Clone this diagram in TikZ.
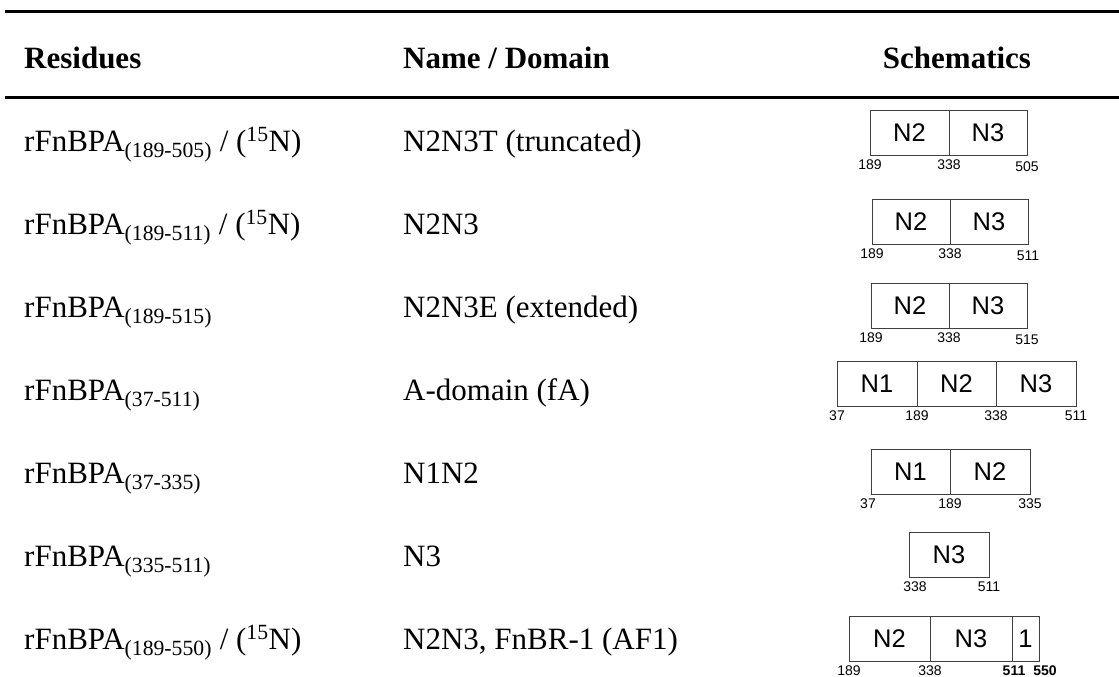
\documentclass[tikz,border=0pt]{standalone}
\usepackage{fontspec}
\setmainfont{Liberation Serif}
\setsansfont{Liberation Sans}
\usetikzlibrary{positioning}
\tikzset{
  seg/.style={draw=black!75,line width=0.9pt,outer sep=0pt,inner sep=0pt,minimum height=45pt,anchor=north west,font=\sffamily\fontsize{25.5}{25.5}\selectfont},
  num/.style={anchor=base,inner sep=0pt,yshift=-14pt,font=\sffamily\fontsize{14}{14}\selectfont},
  bnum/.style={num,font=\sffamily\bfseries\fontsize{14}{14}\selectfont},
  cell/.style={anchor=base west,inner sep=0pt,font=\fontsize{31}{36}\selectfont},
  head/.style={cell,font=\bfseries\fontsize{31}{36}\selectfont},
  hrule/.style={line width=3pt},
}
\begin{document}
\begin{tikzpicture}[x=1pt,y=-1pt]
\useasboundingbox (0,0) rectangle (1119,677);
% rules
\coordinate (t0) at (5,12); \coordinate (t1) at (1119,12);
\coordinate (m0) at (5,97); \coordinate (m1) at (1119,97);
\draw[hrule] (t0) -- (t1);
\draw[hrule] (m0) -- (m1);
% header
\node[head] (hres) at (24,69) {Residues};
\node[head] (hname) at (403,69) {Name / Domain};
\node[head,anchor=base] (hsch) at (957,69) {Schematics};
% residues and names
\node[cell] (res1) at (24,151) {rFnBPA\textsubscript{(189-505)} / (\textsuperscript{15}N)};
\node[cell] (res2) at (24,234) {rFnBPA\textsubscript{(189-511)} / (\textsuperscript{15}N)};
\node[cell] (res3) at (24,317) {rFnBPA\textsubscript{(189-515)}};
\node[cell] (res4) at (24,400) {rFnBPA\textsubscript{(37-511)}};
\node[cell] (res5) at (24,483) {rFnBPA\textsubscript{(37-335)}};
\node[cell] (res6) at (24,566) {rFnBPA\textsubscript{(335-511)}};
\node[cell] (res7) at (24,649) {rFnBPA\textsubscript{(189-550)} / (\textsuperscript{15}N)};
\node[cell] (name1) at (403,151) {N2N3T (truncated)};
\node[cell] (name2) at (403,234) {N2N3};
\node[cell] (name3) at (403,317) {N2N3E (extended)};
\node[cell] (name4) at (403,400) {A-domain (fA)};
\node[cell] (name5) at (403,483) {N1N2};
\node[cell] (name6) at (403,566) {N3};
\node[cell] (name7) at (403,649) {N2N3, FnBR-1 (AF1)};
% schematics
\node[seg,minimum width=79pt] (a1) at (870,110) {N2};
\node[seg,minimum width=78pt,right=0pt of a1] (a2) {N3};
\node[num] (a1l) at (a1.south west) {189};
\node[num] (a1m) at (a1.south east) {338};
\node[num,yshift=-2pt] (a1r) at (a2.south east) {505};

\node[seg,minimum width=78pt] (b1) at (872,199) {N2};
\node[seg,minimum width=78pt,right=0pt of b1] (b2) {N3};
\node[num] (b1l) at (b1.south west) {189};
\node[num] (b1m) at (b1.south east) {338};
\node[num,yshift=-2pt] (b1r) at (b2.south east) {511};

\node[seg,minimum width=78pt] (c1) at (871,283) {N2};
\node[seg,minimum width=78pt,right=0pt of c1] (c2) {N3};
\node[num] (c1l) at (c1.south west) {189};
\node[num] (c1m) at (c1.south east) {338};
\node[num,yshift=-2pt] (c1r) at (c2.south east) {515};

\node[seg,minimum width=80pt] (d1) at (837,361) {N1};
\node[seg,minimum width=79pt,right=0pt of d1] (d2) {N2};
\node[seg,minimum width=80pt,right=0pt of d2] (d3) {N3};
\node[num] (d1l) at (d1.south west) {37};
\node[num] (d1m) at (d1.south east) {189};
\node[num] (d2m) at (d2.south east) {338};
\node[num] (d3r) at (d3.south east) {511};

\node[seg,minimum width=79pt] (e1) at (871,449) {N1};
\node[seg,minimum width=80pt,right=0pt of e1] (e2) {N2};
\node[num,xshift=-3pt] (e1l) at (e1.south west) {37};
\node[num] (e1m) at (e1.south east) {189};
\node[num] (e2r) at (e2.south east) {335};

\node[seg,minimum width=80pt] (f1) at (909,532) {N3};
\node[num,xshift=6pt] (f1l) at (f1.south west) {338};
\node[num] (f1r) at (f1.south east) {511};

\node[seg,minimum width=81pt] (g1) at (849,616) {N2};
\node[seg,minimum width=82pt,right=0pt of g1] (g2) {N3};
\node[seg,minimum width=27pt,right=0pt of g2] (g3) {1};
\node[num] (g1l) at (g1.south west) {189};
\node[num] (g1m) at (g1.south east) {338};
\node[bnum,xshift=2pt] (g2m) at (g2.south east) {511};
\node[bnum,xshift=6pt] (g3r) at (g3.south east) {550};
\end{tikzpicture}
\end{document}
